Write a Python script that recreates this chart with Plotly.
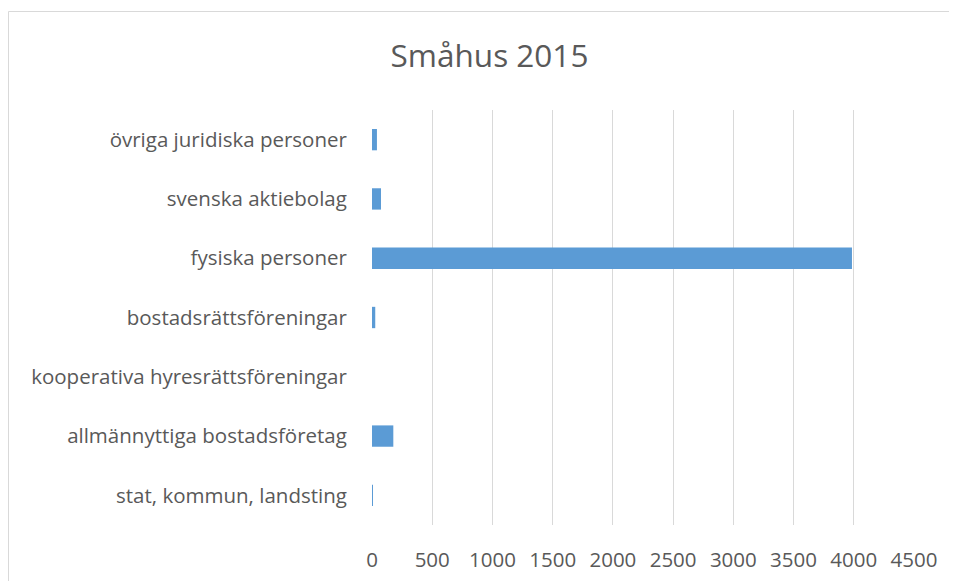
import plotly.graph_objects as go

categories = [
    "stat, kommun, landsting",
    "allmännyttiga bostadsföretag",
    "kooperativa hyresrättsföreningar",
    "bostadsrättsföreningar",
    "fysiska personer",
    "svenska aktiebolag",
    "övriga juridiska personer",
]
values = [8, 177, 0, 27, 3985, 75, 41]
x_ticks = [0, 500, 1000, 1500, 2000, 2500, 3000, 3500, 4000, 4500]

fig = go.Figure(go.Bar(
    x=values, y=categories, orientation="h",
    marker=dict(color="#5b9bd5", line=dict(width=0)),
))

W, H = 957, 581
L, R, T, B = 364, 51, 102, 64
pw, ph = W - L - R, H - T - B

def px2x(p):
    return (p - L) / pw

def px2y(p):
    return 1 - (p - T) / ph

fig.update_layout(
    width=W, height=H,
    margin=dict(l=L, r=R, t=T, b=B),
    paper_bgcolor="white", plot_bgcolor="white",
    bargap=0.64,
    showlegend=False,
    font=dict(family="Open Sans", color="#595959", size=20.5),
    title=dict(text="Småhus 2015", x=481.5 / W, xanchor="center",
               y=1 - 47.5 / H, yanchor="middle",
               font=dict(family="Open Sans", size=31.5, color="#595959")),
    xaxis=dict(range=[0, 4500], tickvals=x_ticks, showgrid=True,
               gridcolor="#d9d9d9", gridwidth=1, zeroline=False,
               ticks="outside", ticklen=16, tickcolor="rgba(0,0,0,0)",
               tickfont=dict(size=20.5, color="#595959"), fixedrange=True),
    yaxis=dict(showgrid=False, zeroline=False, ticks="outside", ticklen=20,
               tickcolor="rgba(0,0,0,0)",
               tickfont=dict(size=20.5, color="#595959"), fixedrange=True),
    shapes=[dict(type="rect", xref="paper", yref="paper",
                 x0=px2x(0.5), x1=px2x(965), y0=px2y(590), y1=px2y(3.5),
                 line=dict(color="#d9d9d9", width=1), fillcolor="rgba(0,0,0,0)",
                 layer="below")],
)

fig.write_html("out.html")
